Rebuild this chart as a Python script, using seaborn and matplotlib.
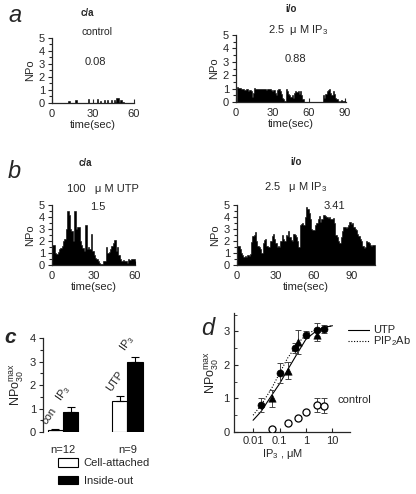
import numpy as np
import pandas as pd
import matplotlib
matplotlib.use('Agg')
import matplotlib.pyplot as plt
from matplotlib.ticker import MultipleLocator, LogLocator, NullFormatter
import seaborn as sns

# NPo traces, one value per second
a_ca_control = [0.03] * 12 + [0.18] + [0.03] * 4 + [0.2] + [0.03] * 8 + [0.3] + [0.03] * 6 + \
    [0.3, 0.03, 0.15, 0.03, 0.03, 0.2, 0.03, 0.25, 0.03, 0.03, 0.2, 0.03, 0.2, 0.05, 0.4, 0.35,
     0.05, 0.2, 0.05, 0.1, 0.03, 0.03, 0.03]
a_io_ip3 = [0.0, 1.1, 1.05, 1.05, 1.0, 1.0, 0.95, 0.9, 1.0, 0.95, 0.85, 0.9, 0.8, 0.4, 0.7,
            1.05, 1.0, 1.0, 0.95, 1.0, 1.0, 0.95, 1.0, 0.95, 0.95, 0.9, 0.95, 1.0, 0.95, 0.9, 0.8,
            0.9, 0.7, 0.5, 0.9, 0.95, 0.85, 0.6, 0.3, 0.2, 0.1, 1.0, 0.8, 0.6, 0.5, 0.4, 0.5, 0.3,
            0.7, 0.8, 0.75, 0.8, 0.6, 0.8, 0.5, 0.2] + [0.02] * 16 + \
           [0.5, 0.3, 0.6, 0.8, 0.9, 0.95, 0.7, 0.5, 0.8, 0.6, 0.3, 0.2, 0.05, 0.02,
            0.1, 0.15, 0.1, 0.05, 0.0]
b_ca_utp = [1.7, 1.7, 1.0, 0.9, 1.1, 1.3, 1.4, 1.6, 2.0, 2.2, 3.0, 4.5, 4.2, 3.0, 2.8, 2.0,
            4.5, 3.0, 3.2, 3.2, 2.0, 1.7, 1.4, 1.2, 3.3, 1.3, 1.5, 1.3, 2.6, 1.2, 0.8, 0.6, 0.5,
            0.3, 0.2, 0.1, 0.05, 0.3, 0.3, 1.5, 1.0, 1.1, 1.3, 1.6, 1.8, 2.1, 1.2, 1.5, 0.8, 0.5,
            0.3, 0.4, 0.3, 0.3, 0.2, 0.5, 0.4, 0.5, 0.5, 0.5]
b_io_ip3 = [1.6, 1.6, 1.3, 1.0, 0.8, 0.7, 0.75, 0.7, 0.8, 0.75, 0.9, 1.9, 2.4, 2.5, 2.75, 2.0,
            1.6, 1.5, 1.3, 1.0, 1.8, 2.1, 2.15, 1.6, 1.5, 1.5, 2.0, 2.4, 2.6, 2.2, 1.8, 1.5, 1.6,
            1.5, 2.0, 2.5, 2.2, 2.0, 2.5, 2.4, 2.85, 2.3, 2.1, 2.0, 2.6, 2.5, 2.3, 2.0, 1.5, 3.3,
            3.4, 3.5, 3.3, 4.0, 4.8, 4.7, 4.3, 3.8, 3.0, 2.9, 2.9, 3.3, 3.5, 3.8, 4.1, 3.6, 3.8,
            4.2, 4.2, 4.1, 4.0, 3.9, 4.0, 3.8, 3.8, 3.9, 3.5, 2.5, 2.3, 2.0, 1.8, 2.3, 2.8, 3.2,
            3.2, 3.1, 3.2, 3.3, 3.6, 3.4, 3.5, 3.2, 3.0, 2.9, 2.6, 2.4, 2.2, 2.0, 1.6, 1.4, 1.5,
            2.0, 1.9, 1.8, 1.7, 1.6, 1.7, 1.7]

# panel c: mean NPo max(30) with SEM
c_groups = ['n=12', 'n=9']
c_patch = ['Cell-attached', 'Inside-out']
c_ca = [0.07, 1.3]
c_ca_err = [0.06, 0.25]
c_io = [0.85, 2.97]
c_io_err = [0.22, 0.23]
c_tags = [['con', 'UTP'], ['IP$_3$', 'IP$_3$']]

# panel d: dose response to IP3
utp_conc = [0.05, 0.2, 0.5, 2.5]
utp_npo = [1.0, 1.83, 2.68, 2.9]
utp_err = [0.25, 0.25, 0.35, 0.2]
pip_conc = [0.02, 0.1, 0.4, 1.0, 2.5, 5.0]
pip_npo = [0.8, 1.75, 2.5, 2.9, 3.05, 3.08]
pip_err = [0.2, 0.3, 0.15, 0.1, 0.2, 0.12]
ctl_conc = [0.05, 0.2, 0.5, 1.0, 2.5, 5.0]
ctl_npo = [0.08, 0.27, 0.42, 0.6, 0.8, 0.78]
ctl_err = [0.03, 0.04, 0.05, 0.06, 0.2, 0.22]
fit_conc = [0.01, 0.02, 0.05, 0.1, 0.2, 0.5, 1.0, 2.5, 5.0, 10.0]
fit_utp = [0.35, 0.61, 1.09, 1.44, 1.85, 2.38, 2.77, 3.02, 3.12, 3.17]
fit_pip = [0.5, 0.8, 1.3, 1.75, 2.2, 2.65, 2.9, 3.07, 3.13, 3.17]

sns.set_style('ticks')
plt.rcParams['font.family'] = ['Liberation Sans', 'DejaVu Sans']
plt.rcParams['mathtext.default'] = 'regular'
plt.rcParams['axes.linewidth'] = 0.9

W, H = 416, 494
fig = plt.figure(figsize=(W / 100, H / 100), dpi=100)


def box(l, t, r, b):
    return fig.add_axes([l / W, 1 - b / H, (r - l) / W, (b - t) / H])


def ftext(x, y, s, **kw):
    kw.setdefault('ha', 'center')
    kw.setdefault('va', 'center')
    kw.setdefault('fontsize', 8)
    fig.text(x / W, 1 - y / H, s, **kw)


def trace(ax, vals, xmax, xticks):
    d = pd.DataFrame({'t': np.arange(len(vals)) + 0.5, 'npo': vals})
    sns.histplot(data=d, x='t', weights='npo', binwidth=1, binrange=(0, len(vals)),
                 element='step', fill=True, color='black', alpha=1, linewidth=0.4, ax=ax)
    ax.set_xlim(0, xmax)
    ax.set_ylim(0, 5)
    ax.set_xticks(xticks)
    ax.set_yticks(range(6))
    ax.yaxis.set_minor_locator(MultipleLocator(0.5))
    ax.set_ylabel('NPo', fontsize=8, labelpad=3)
    ax.set_xlabel('time(sec)', fontsize=8, labelpad=1)
    sns.despine(ax=ax)
    ax.tick_params(labelsize=8, width=0.8, length=3, pad=2)
    ax.tick_params(axis='x', direction='in', pad=4)
    ax.tick_params(axis='y', which='minor', length=2, width=0.8)


# panel a
ax = box(52, 38, 134, 103)
trace(ax, a_ca_control, 60, [0, 30, 60])
ax = box(236, 35, 346, 102)
trace(ax, a_io_ip3, 91, [0, 30, 60, 90])
ftext(15, 16, 'a', fontsize=17, style='italic')
ftext(87, 13, 'c/a', fontsize=7, weight='bold')
ftext(97, 32, 'control', fontsize=7.5)
ftext(95, 62, '0.08')
ftext(291, 9, 'i/o', fontsize=7, weight='bold')
ftext(298, 30, '2.5  \u03bc M IP$_3$')
ftext(295, 59, '0.88')

# panel b
ax = box(52, 205, 135, 265)
trace(ax, b_ca_utp, 60, [0, 30, 60])
ax = box(237, 205, 375, 265)
trace(ax, b_io_ip3, 108, [0, 30, 60, 90])
ftext(14, 172, 'b', fontsize=17, style='italic')
ftext(85, 163, 'c/a', fontsize=7, weight='bold')
ftext(103, 189, '100   \u03bc M UTP')
ftext(98, 207, '1.5')
ftext(296, 162, 'i/o', fontsize=7, weight='bold')
ftext(296, 187, '2.5   \u03bc M IP$_3$')
ftext(334, 206, '3.41')

# panel c
axc = box(43, 338, 150, 432)
df_c = pd.DataFrame({'group': c_groups * 2,
                     'patch': [c_patch[0]] * 2 + [c_patch[1]] * 2,
                     'npo': c_ca + c_io})
sns.barplot(data=df_c, x='group', y='npo', hue='patch', palette=['white', 'black'],
            edgecolor='black', linewidth=0.8, width=0.47, saturation=1, errorbar=None, ax=axc)
for cont, errs, tags in zip(axc.containers, [c_ca_err, c_io_err], c_tags):
    for bar, e, tag in zip(cont, errs, tags):
        xc = bar.get_x() + bar.get_width() / 2
        top = bar.get_height()
        axc.errorbar(xc, top, yerr=[[0], [e]], color='black', capsize=3, lw=0.8, capthick=0.8)
        axc.text(bar.get_x() + 0.01, top + e + 0.12, tag, rotation=55, rotation_mode='anchor',
                 ha='left', va='bottom', fontsize=8)
axc.set_ylim(0, 4)
axc.set_xlim(-0.31, 1.35)
axc.set_yticks(range(5))
axc.yaxis.set_minor_locator(MultipleLocator(0.5))
axc.set_xlabel('')
axc.set_ylabel('NPo$^{max}_{30}$', fontsize=9, labelpad=3)
sns.despine(ax=axc, bottom=True)
axc.tick_params(axis='y', labelsize=8, width=0.8, length=3, pad=2)
axc.tick_params(axis='y', which='minor', length=2, width=0.8)
axc.tick_params(axis='x', length=0, labelsize=8, pad=9)
axc.legend(loc='upper left', bbox_to_anchor=(58 / W, 1 - 458 / H), bbox_transform=fig.transFigure,
           frameon=False, fontsize=8, handlelength=1.8, handleheight=0.8, labelspacing=0.7,
           borderpad=0, borderaxespad=0, handletextpad=0.5)
ftext(10, 337, 'c', fontsize=15, style='italic', weight='bold')

# panel d
axd = box(234, 313, 350, 432)
sns.lineplot(x=fit_conc, y=fit_utp, color='black', lw=0.8, ax=axd)
sns.lineplot(x=fit_conc, y=fit_pip, color='black', lw=0.8, linestyle=(0, (1, 1.5)), ax=axd)
for xs, ys, es in [(utp_conc, utp_npo, utp_err), (pip_conc, pip_npo, pip_err),
                   (ctl_conc, ctl_npo, ctl_err)]:
    axd.errorbar(xs, ys, yerr=es, fmt='none', ecolor='#444444', elinewidth=0.7, capsize=2.5,
                 capthick=0.7)
sns.scatterplot(x=pip_conc, y=pip_npo, marker='o', s=26, color='black', edgecolor='black', ax=axd,
                zorder=3)
sns.scatterplot(x=utp_conc, y=utp_npo, marker='^', s=28, color='black', edgecolor='black', ax=axd,
                zorder=3)
sns.scatterplot(x=ctl_conc, y=ctl_npo, marker='o', s=26, facecolor='white', edgecolor='black',
                linewidth=0.9, ax=axd, zorder=3)
axd.set_xscale('log')
axd.set_xlim(0.0019, 46)
axd.set_ylim(0, 3.55)
axd.set_xticks([0.01, 0.1, 1, 10])
axd.set_xticklabels(['0.01', '0.1', '1', '10'])
axd.xaxis.set_minor_locator(LogLocator(base=10, subs=np.arange(2, 10)))
axd.xaxis.set_minor_formatter(NullFormatter())
axd.set_yticks(range(4))
axd.yaxis.set_minor_locator(MultipleLocator(0.5))
axd.set_xlabel('IP$_3$ , \u03bcM', fontsize=8, labelpad=2)
axd.xaxis.set_label_coords((283 - 234) / 116, -0.13)
axd.set_ylabel('NPo$^{max}_{30}$', fontsize=9, labelpad=2)
sns.despine(ax=axd)
axd.tick_params(labelsize=8, width=0.8, length=3, pad=3, direction='in')
axd.tick_params(which='minor', length=2, width=0.6, direction='in')
ftext(208, 328, 'd', fontsize=17, style='italic')

# legend for curves in d
lax = box(348, 324, 370, 346)
sns.lineplot(x=[0, 1], y=[1, 1], color='black', lw=0.8, ax=lax)
sns.lineplot(x=[0, 1], y=[0, 0], color='black', lw=0.8, linestyle=(0, (1, 1.5)), ax=lax)
lax.set_xlim(0, 1)
lax.set_ylim(-0.5, 1.5)
lax.axis('off')
ftext(373, 330, 'UTP', ha='left')
ftext(373, 341, 'PIP$_2$Ab', ha='left')
ftext(338, 400, 'control', ha='left')

fig.savefig('out.png', dpi=100)
